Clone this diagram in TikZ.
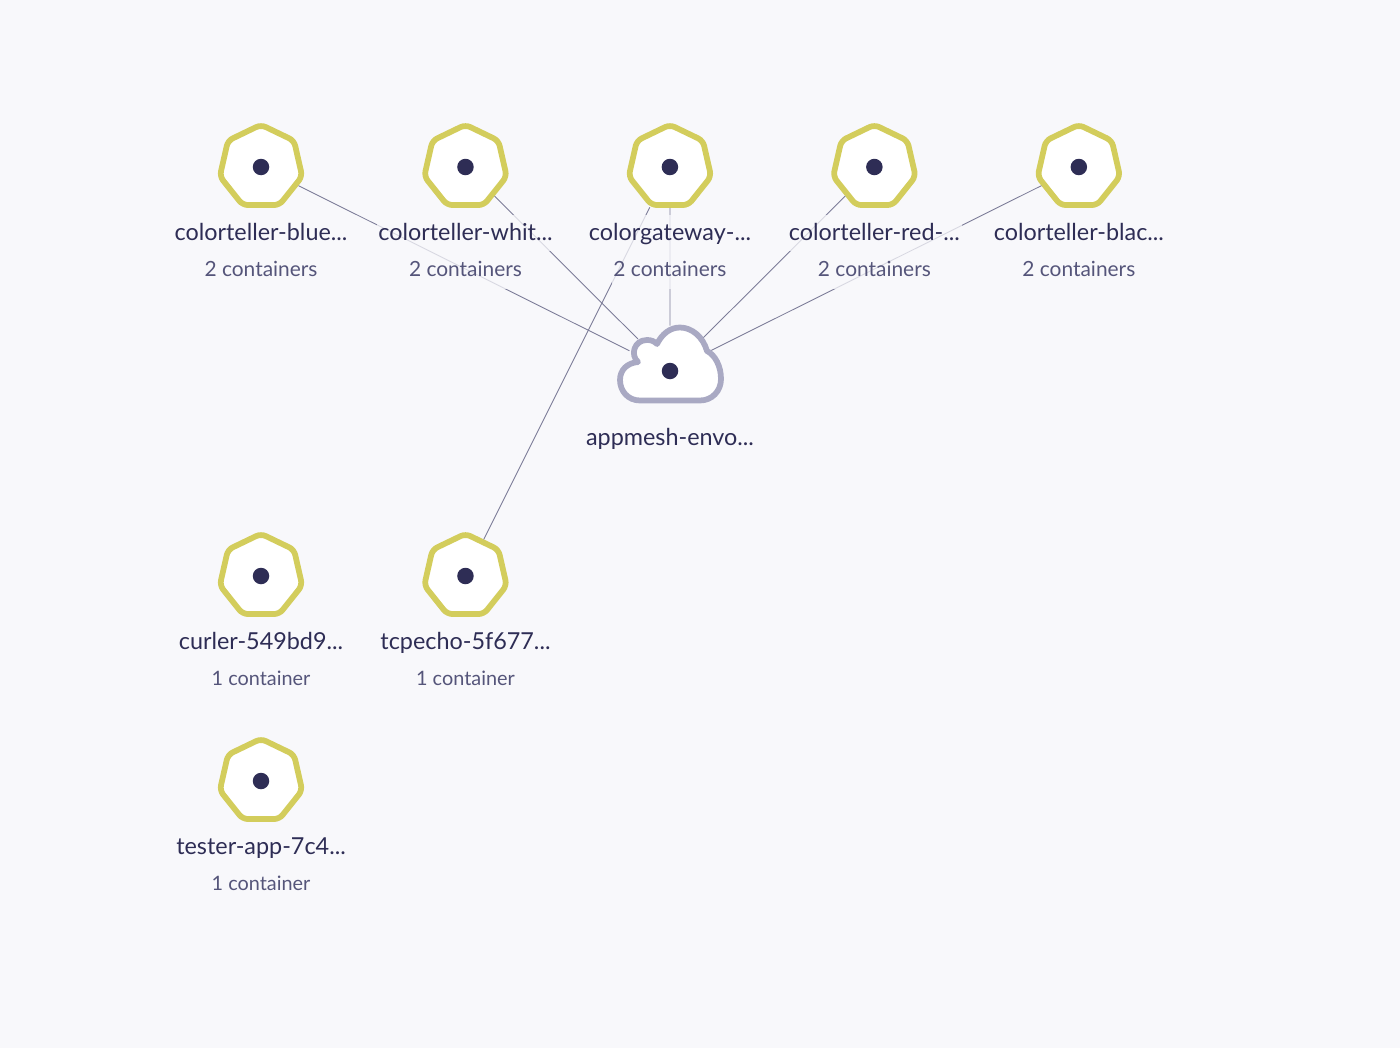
\documentclass[tikz,border=0pt]{standalone}
\usepackage{fontspec}
\setmainfont{Lato}
\usepackage{tikz}
\usetikzlibrary{shapes,arrows}
\definecolor{pagebg}{HTML}{F8F8FB}
\definecolor{podring}{HTML}{D3CD5C}
\definecolor{cloudring}{HTML}{A9A9C3}
\definecolor{inkdark}{HTML}{2E2D55}
\definecolor{inksoft}{HTML}{55557A}
\definecolor{linkcol}{HTML}{7C7C98}

\begin{document}
\begin{tikzpicture}[x=0.02cm, y=-0.02cm, node distance = 4.09cm]
  \tikzstyle{pod} = [regular polygon, regular polygon sides=7, minimum size=1.69cm, inner sep=0pt, rounded corners=3pt, draw=podring, line width=0.115cm, fill=white]
  \tikzstyle{dot} = [circle, minimum size=0.33cm, inner sep=0pt, fill=inkdark]
  \tikzstyle{title} = [font=\fontsize{13.3}{15}\selectfont, text=inkdark, fill=pagebg, fill opacity=0.75, text opacity=1, inner xsep=1pt, inner ysep=0pt, text height=0.5cm, text depth=0.22cm]
  \tikzstyle{sub} = [font=\fontsize{11.9}{14}\selectfont, text=inksoft, fill=pagebg, fill opacity=0.75, text opacity=1, inner xsep=1pt, inner ysep=0pt, text height=0.5cm, text depth=0.26cm]
  \tikzstyle{subone} = [sub, font=\fontsize{11.3}{14}\selectfont]
  \tikzstyle{link} = [line width=0.5pt, draw=linkcol]
  \fill [pagebg] (0,0) rectangle (1400,1048);
  % pods
  \node (blue) [pod] at (261,167) {};
  \node (white) [pod, right of=blue] {};
  \node (gateway) [pod, right of=white] {};
  \node (red) [pod, right of=gateway] {};
  \node (black) [pod, right of=red] {};
  \node (curler) [pod] at (261,576) {};
  \node (tcpecho) [pod, right of=curler] {};
  \node (tester) [pod] at (261,781) {};
  \node (envoy) [circle, minimum size=1.8cm, inner sep=0pt] at (670,371) {};
  % links
  \draw [link] (blue) -- (envoy);
  \draw [link] (white) -- (envoy);
  \draw [link] (gateway) -- (envoy);
  \draw [link] (red) -- (envoy);
  \draw [link] (black) -- (envoy);
  \draw [link] (tcpecho) -- (gateway);
  % cloud
  \draw [line width=0.115cm, draw=cloudring, fill=white, line join=round]
    (640,400.5) .. controls (628,400.5) and (620,391) .. (620,380)
    .. controls (620,370) and (627,363) .. (638,362)
    .. controls (630,355) and (634,340) .. (647,340)
    .. controls (651,340) and (654,341) .. (657,344)
    .. controls (662,334) and (670,327.5) .. (680,327.5)
    .. controls (692,327.5) and (703,337) .. (707,351)
    .. controls (715,355) and (721,366) .. (721,379)
    .. controls (721,391) and (712,400.5) .. (700,400.5) -- cycle;
  % dots
  \foreach \n in {blue,white,gateway,red,black,curler,tcpecho,tester,envoy}
    \node [dot] at (\n) {};
  % labels
  \node (tblue) [title] at (261,233) {colorteller-blue...};
  \node (twhite) [title, right of=tblue] {colorteller-whit...};
  \node (tgateway) [title, right of=twhite] {colorgateway-...};
  \node (tred) [title, right of=tgateway] {colorteller-red-...};
  \node (tblack) [title, right of=tred] {colorteller-blac...};
  \node (tenvoy) [title] at (670,438) {appmesh-envo...};
  \node (tcurler) [title] at (261,642) {curler-549bd9...};
  \node (ttcpecho) [title, right of=tcurler] {tcpecho-5f677...};
  \node (ttester) [title] at (261,847) {tester-app-7c4...};
  \node (sblue) [sub] at (261,270) {2 containers};
  \node (swhite) [sub, right of=sblue] {2 containers};
  \node (sgateway) [sub, right of=swhite] {2 containers};
  \node (sred) [sub, right of=sgateway] {2 containers};
  \node (sblack) [sub, right of=sred] {2 containers};
  \node (scurler) [subone] at (261,679) {1 container};
  \node (stcpecho) [subone, right of=scurler] {1 container};
  \node (stester) [subone] at (261,884) {1 container};
\end{tikzpicture}
\end{document}
